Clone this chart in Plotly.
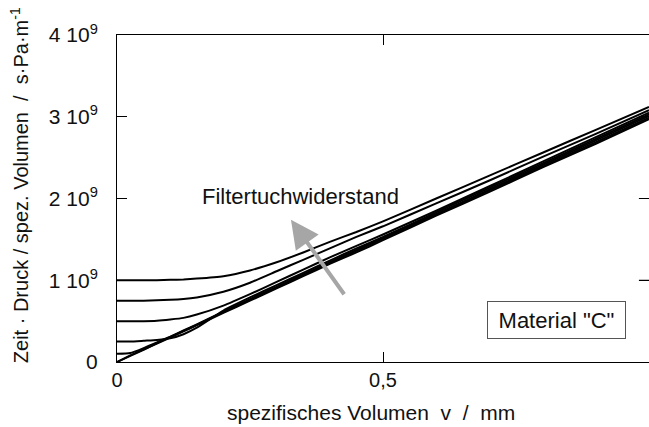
import plotly.graph_objects as go

# specific filtrate volume v / mm
v = [0.0, 0.025, 0.05, 0.075, 0.10, 0.125, 0.15, 0.20, 0.25, 0.30, 0.35,
     0.40, 0.45, 0.50, 0.60, 0.70, 0.80, 0.90, 1.00]

# t*p/v in units of 1e9 s*Pa/m, one series per filter cloth resistance
curve_100 = [1.00, 1.00, 1.00, 1.00, 1.005, 1.01, 1.02, 1.05, 1.12, 1.22, 1.34,
             1.47, 1.59, 1.72, 2.00, 2.28, 2.56, 2.84, 3.12]
curve_075 = [0.75, 0.75, 0.75, 0.755, 0.76, 0.77, 0.79, 0.86, 0.97, 1.11, 1.25,
             1.39, 1.53, 1.66, 1.94, 2.22, 2.51, 2.79, 3.08]
curve_050 = [0.50, 0.50, 0.50, 0.505, 0.52, 0.54, 0.58, 0.69, 0.83, 0.98, 1.13,
             1.28, 1.42, 1.56, 1.85, 2.15, 2.45, 2.75, 3.05]
curve_025 = [0.25, 0.25, 0.26, 0.27, 0.29, 0.34, 0.42, 0.63, 0.79, 0.94, 1.09,
             1.24, 1.39, 1.53, 1.83, 2.13, 2.43, 2.73, 3.03]
curve_010 = [0.10, 0.11, 0.17, 0.24, 0.31, 0.385, 0.46, 0.615, 0.77, 0.92, 1.07,
             1.22, 1.37, 1.52, 1.81, 2.11, 2.41, 2.71, 3.01]
curve_002 = [0.00, 0.08, 0.155, 0.23, 0.305, 0.38, 0.455, 0.61, 0.76, 0.91, 1.06,
             1.21, 1.36, 1.51, 1.80, 2.10, 2.39, 2.69, 2.99]
curve_000 = [0.00, 0.075, 0.15, 0.225, 0.30, 0.375, 0.45, 0.60, 0.75, 0.90, 1.05,
             1.20, 1.34, 1.49, 1.79, 2.08, 2.38, 2.67, 2.97]

series = [curve_100, curve_075, curve_050, curve_025, curve_010, curve_002, curve_000]

x_ticks = [0, 0.5, 1]
x_ticktext = ["0", "0,5", "1"]
y_ticks = [0, 1e9, 2e9, 3e9, 4e9]
y_ticktext = ["0", "1 10<sup>9</sup>", "2 10<sup>9</sup>", "3 10<sup>9</sup>", "4 10<sup>9</sup>"]

FONT = "Liberation Sans, Arial, sans-serif"
INK = "#111111"

fig = go.Figure()
for ys in series:
    fig.add_trace(go.Scatter(
        x=v, y=[y * 1e9 for y in ys], mode="lines",
        line=dict(color="black", width=2, shape="spline", smoothing=0.5),
        showlegend=False, hoverinfo="skip",
    ))

axis_common = dict(
    showline=True, linecolor="black", linewidth=1, mirror="ticks",
    ticks="inside", ticklen=10, tickcolor="black", tickwidth=1,
    showgrid=False, zeroline=False,
)

# inward ticks along the right frame edge
right_ticks = [
    dict(type="line", xref="paper", yref="y", x0=0.981, x1=1.0, y0=t, y1=t,
         line=dict(color="black", width=1))
    for t in y_ticks[1:-1]
]

fig.update_layout(
    width=649, height=427,
    margin=dict(l=117, r=0, t=35, b=65),
    paper_bgcolor="white", plot_bgcolor="white",
    xaxis=dict(range=[0, 1], tickvals=x_ticks, ticktext=x_ticktext,
               ticklabelstandoff=0, tickfont=dict(family=FONT, size=20, color=INK),
               **axis_common),
    yaxis=dict(range=[0, 4e9], tickvals=y_ticks, ticktext=y_ticktext,
               ticklabelstandoff=14, tickfont=dict(family=FONT, size=21, color=INK),
               **axis_common),
    shapes=right_ticks,
    annotations=[
        # axis titles
        dict(text="spezifisches Volumen\u00a0\u00a0v\u00a0\u00a0/\u00a0\u00a0mm",
             xref="paper", yref="paper", x=0.477, y=-0.153,
             xanchor="center", yanchor="middle", showarrow=False,
             font=dict(family=FONT, size=21, color=INK)),
        dict(text="Zeit · Druck / spez. Volumen\u00a0\u00a0/\u00a0\u00a0s·Pa·m<sup>-1</sup>",
             xref="paper", yref="paper", x=-0.184, y=0.541,
             xanchor="center", yanchor="middle", showarrow=False,
             textangle=-90, font=dict(family=FONT, size=20, color=INK)),
        # direction of increasing filter cloth resistance
        dict(x=0.327, y=1.74e9, ax=0.429, ay=0.81e9, xref="x", yref="y",
             axref="x", ayref="y", showarrow=True, arrowhead=2, arrowsize=1.4,
             arrowwidth=4, arrowcolor="#a6a6a6", text=""),
        dict(text="Filtertuchwiderstand", x=0.344, y=2.02e9, xref="x", yref="y",
             showarrow=False, font=dict(family=FONT, size=22, color=INK)),
        # material label box
        dict(text='Material "C"', x=0.827, y=0.51e9, xref="x", yref="y",
             showarrow=False, width=135, height=34, borderpad=1,
             bordercolor="#555555", borderwidth=1, bgcolor="white",
             font=dict(family=FONT, size=22, color=INK)),
    ],
)

fig.write_html("out.html")
